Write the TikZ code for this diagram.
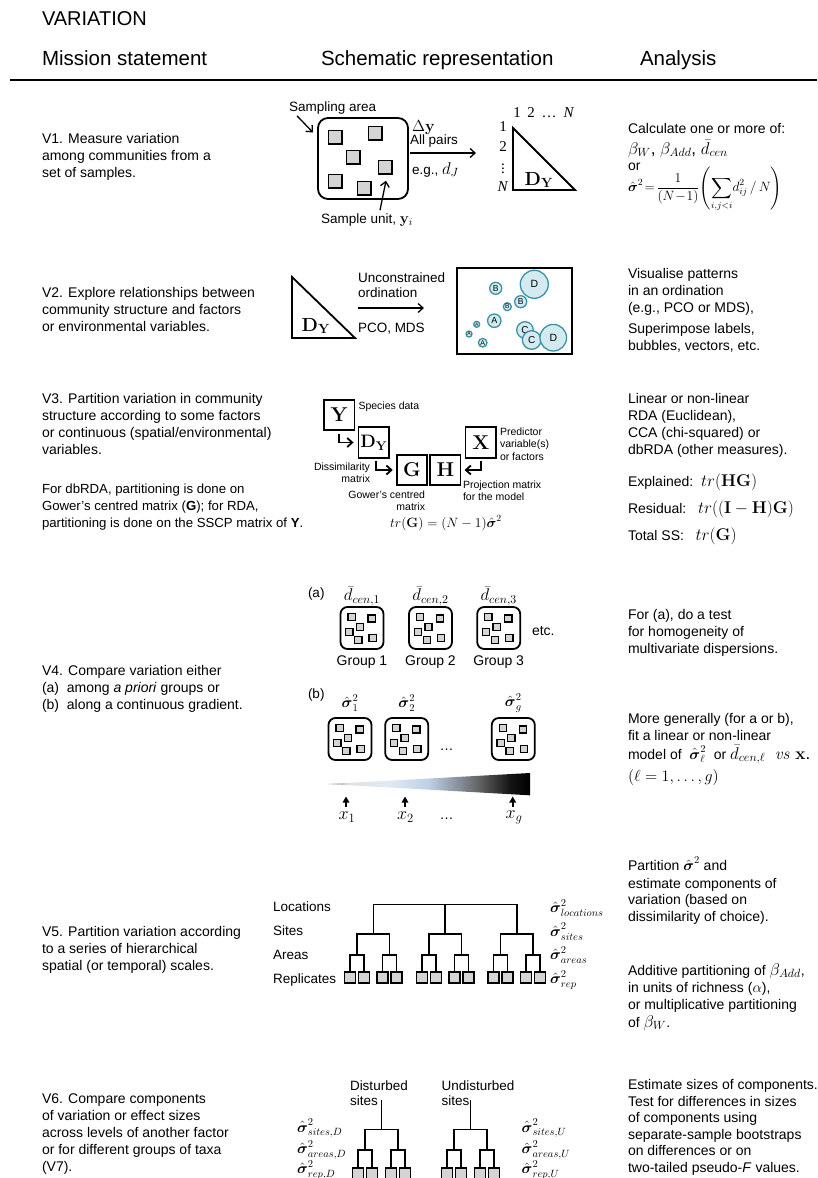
\RequirePackage{fix-cm}
\documentclass[tikz,border=0pt]{standalone}
\usepackage{amsmath}
\usepackage[no-math]{fontspec}
\setmainfont{Liberation Sans}
\newfontfamily\serifx{Liberation Serif}
\usetikzlibrary{arrows.meta,calc}
\definecolor{sqgray}{HTML}{D4D4D4}
\definecolor{bubfill}{HTML}{D3EBF0}
\definecolor{bubline}{HTML}{3B92A6}
\definecolor{wblue}{HTML}{BCD0E6}
\colorlet{wA}{black!50}
\colorlet{wB}{black!12}
\colorlet{wC}{wblue!45}
\colorlet{wD}{black!60}
\colorlet{wE}{black!92}
\pgfdeclarehorizontalshading{wedgeshade}{100bp}{color(0bp)=(wA); color(25bp)=(wA); color(30bp)=(wB); color(40bp)=(wC); color(50bp)=(wblue); color(62bp)=(wD); color(70bp)=(wE); color(75bp)=(black); color(100bp)=(black)}
\newcommand{\fsz}[1]{\fontsize{#1}{#1}\selectfont}
\newcommand{\sighat}{\hat{\boldsymbol{\sigma}}}
\begin{document}
\begin{tikzpicture}[x=1pt,y=-1pt,
 every node/.style={inner sep=0pt, outer sep=0pt},
 hdr/.style={anchor=base west, font=\fontsize{20.5}{24}\selectfont},
 para/.style={anchor=north west, align=left, font=\fontsize{14}{17}\selectfont},
 parb/.style={anchor=north west, align=left, font=\fontsize{14}{16.5}\selectfont},
 ln/.style={anchor=base west, font=\fontsize{14}{17}\selectfont},
 sm/.style={font=\fontsize{13.5}{15.5}\selectfont},
 lbl/.style={font=\fontsize{10.5}{12.3}\selectfont},
 num/.style={font=\serifx\fontsize{15}{17}\selectfont},
 mbox/.style={draw, line width=1.8pt, minimum width=30.5pt, minimum height=30.5pt, font=\fontsize{20}{22}\selectfont},
 samp/.style={draw, line width=1.5pt, fill=sqgray, minimum size=13.5pt},
 mini/.style={draw, line width=1.3pt, fill=sqgray, minimum size=7.2pt},
 rep/.style={draw, line width=1.4pt, fill=sqgray, minimum size=11pt},
 area/.style={draw, line width=1.8pt, rounded corners=10pt},
 grp/.style={draw, line width=1.8pt, rounded corners=7pt, minimum width=43pt, minimum height=42pt},
 bub/.style={circle, draw=bubline, fill=bubfill, line width=1.3pt},
 barb/.style={-{Straight Barb[length=5pt,width=9pt]}, line width=1.3pt},
 barbb/.style={-{Straight Barb[length=5pt,width=9pt]}, line width=1.8pt},
 uparr/.style={-{Triangle[length=6pt,width=6.5pt]}, line width=1.8pt},
 tl/.style={line width=1.6pt},
 tri/.style={line width=1.8pt, line join=miter},
]
\useasboundingbox (0,0) rectangle (817,1178);
\clip (0,0) rectangle (817,1178);
\fill[white] (0,0) rectangle (817,1178);

% ---------- header ----------
\node[anchor=base west, font=\fontsize{20}{24}\selectfont] (title) at (42,25) {VARIATION};
\node[hdr] (h1) at (42,65) {Mission statement};
\node[hdr] (h2) at (321,65) {Schematic representation};
\node[hdr] (h3) at (640,65) {Analysis};
\coordinate (hrA) at (10,80); \coordinate (hrB) at (817,80);
\draw[line width=1.5pt] (hrA) -- (hrB);

% ---------- V1 ----------
\node[para] (v1l) at (42,131.1) {\strut V1. Measure variation\\among communities from a\\set of samples.};
\node[sm, anchor=base west] (sal) at (289,111) {Sampling area};
\node[area, minimum width=90pt, minimum height=81pt] (sbox) at (363,158.5) {};
\draw[barb] ($(sal.south west)+(8,2)$) -- ($(sbox.west)+(-5,-26)$);
\foreach \n/\x/\y in {1/335/137, 2/375/133, 3/353/157, 4/385/167, 5/335/181, 6/364/188}
  \node[samp] (s\n) at (\x,\y) {};
\node[sm, anchor=base] (sul) at (367,223) {Sample unit, {\fsz{15}$\mathbf{y}_i$}};
\draw[barb] ($(sul.north)+(13,-3)$) -- ($(s4.south)+(1,7)$);
\node[anchor=base west, font=\fsz{16}] (dy) at (412,131) {$\Delta\mathbf{y}$};
\node[sm, anchor=base west] (ap) at (410,144) {All pairs};
\coordinate (arA) at (410,153); \coordinate (arB) at (476,153);
\draw[barb] (arA) -- (arB);
\node[sm, anchor=base west] (eg) at (412,174) {e.g., {\fsz{17}$d_J$}};
\draw[tri] (513,128) -- (513,190) -- (575,190) -- cycle;
\node[font=\fsz{19}] (dyl) at (539,180) {$\mathbf{D}_{\mathbf{Y}}$};
\node[num, anchor=base] (cn1) at (517,117) {1};
\node[num, anchor=base] (cn2) at (531,117) {2};
\node[num, anchor=base] (cn3) at (549,117) {…};
\node[num, anchor=base] (cn4) at (569,117) {\textit{N}};
\node[num] (rn1) at (503,127) {1};
\node[num] (rn2) at (503,147) {2};
\node[num] (rn3) at (503,166) {$\vdots$};
\node[num] (rn4) at (503,186.5) {\textit{N}};
\node[ln] (a1a) at (628,133.5) {Calculate one or more of:};
\node[anchor=base west, font=\fsz{17}] (a1b) at (628,154) {$\beta_W$, $\beta_{Add}$, $\bar{d}_{cen}$};
\node[ln] (a1c) at (628,170.5) {or};
\node[anchor=west, font=\fsz{13.5}] (a1d) at (628,189) {$\displaystyle\sighat^2\!=\!\frac{1}{(N\!-\!1)}\!\left(\sum_{i,j<i}\! d_{ij}^2\,/\,N\right)$};

% ---------- V2 ----------
\node[para] (v2l) at (42,285.1) {\strut V2. Explore relationships between\\community structure and factors\\or environmental variables.};
\draw[tri] (292,277) -- (292,338) -- (355,338) -- cycle;
\node[font=\fsz{19}] (dy2) at (316,326) {$\mathbf{D}_{\mathbf{Y}}$};
\node[sm, anchor=base west] (unc) at (358,282) {Unconstrained};
\node[sm, anchor=base west] (ordt) at (358,297.5) {ordination};
\coordinate (o1) at (358,308); \coordinate (o2) at (424,308);
\draw[barb] (o1) -- (o2);
\node[sm, anchor=base west] (pco) at (358,332) {PCO, MDS};
\node[draw, line width=2pt, minimum width=115pt, minimum height=86pt] (ordbox) at (514.5,311) {};
\node[bub, minimum size=12pt, font=\fsz{8.5}] (bB1) at (495.7,288.3) {B};
\node[bub, minimum size=28pt, font=\fsz{10.5}] (bD1) at (534.3,284.3) {D};
\node[bub, minimum size=8pt, font=\fsz{6.5}] (bB3) at (507.3,306.7) {B};
\node[bub, minimum size=12pt, font=\fsz{8.5}] (bB2) at (520.7,301.7) {B};
\node[bub, minimum size=13.4pt, font=\fsz{9}] (bA1) at (494.3,320.7) {A};
\node[bub, minimum size=6pt, font=\fsz{5}] (bA2) at (476.7,324.3) {A};
\node[bub, minimum size=6pt, font=\fsz{5}] (bA3) at (469,334) {A};
\node[bub, minimum size=8.6pt, font=\fsz{7}] (bA4) at (482.7,342.7) {A};
\node[bub, minimum size=16.6pt, font=\fsz{10}] (bC1) at (525,330) {C};
\node[bub, minimum size=18.6pt, font=\fsz{10}] (bC2) at (531.7,340) {C};
\node[bub, minimum size=26.6pt, font=\fsz{10.5}] (bD2) at (553.3,337.7) {D};
\node[para] (a2a) at (628,266.1) {\strut Visualise patterns\\in an ordination\\(e.g., PCO or MDS),};
\node[para] (a2b) at (628,321.1) {\strut Superimpose labels,\\bubbles, vectors, etc.};

% ---------- V3 ----------
\node[para] (v3l) at (42,391.1) {\strut V3. Partition variation in community\\structure according to some factors\\or continuous (spatial/environmental)\\variables.};
\node[para, font=\fontsize{13.2}{17}\selectfont] (v3m) at (42,481.1) {\strut For dbRDA, partitioning is done on\\Gower’s centred matrix (\textbf{G}); for RDA,\\partitioning is done on the SSCP matrix of \textbf{Y}.};
\node[mbox] (Yb) at (339.3,415) {$\mathbf{Y}$};
\node[mbox, font=\fsz{18}] (Db) at (373.8,442.5) {$\mathbf{D}_{\mathbf{Y}}$};
\node[mbox] (Gb) at (412,470) {$\mathbf{G}$};
\node[mbox] (Hb) at (445.3,470) {$\mathbf{H}$};
\node[mbox] (Xb) at (480.8,442.5) {$\mathbf{X}$};
\draw[barbb] ($(Yb.south)+(0,4)$) |- ($(Db.west)+(-5,0)$);
\draw[barbb] ($(Db.south)+(2,3)$) |- ($(Gb.west)+(-4,0)$);
\draw[barbb] ($(Xb.south)+(0,3)$) |- ($(Hb.east)+(4,0)$);
\node[lbl, anchor=base west] (spd) at (358.5,409.5) {Species data};
\node[lbl, anchor=north west, align=left] (pred) at (500,426.9) {\strut Predictor\\variable(s)\\or factors};
\node[lbl, anchor=north east, align=right] (diss) at (370,461.9) {\strut Dissimilarity\\matrix};
\node[lbl, anchor=north west, align=left] (proj) at (463,479.4) {\strut Projection matrix\\for the model};
\node[lbl, anchor=north east, align=right] (gow) at (425,489.4) {\strut Gower’s centred\\matrix};
\node[font=\fsz{13.5}] (trg) at (446,523) {$tr(\mathbf{G})=(N-1)\sighat^2$};
\node[para] (a3a) at (628,391.1) {\strut Linear or non-linear\\RDA (Euclidean),\\CCA (chi-squared) or\\dbRDA (other measures).};
\node[ln] (a3b) at (628,486) {Explained:\ \ {\fsz{17}$tr(\mathbf{HG})$}};
\node[ln] (a3c) at (628,513) {Residual:\ \ \ {\fsz{17}$tr((\mathbf{I}-\mathbf{H})\mathbf{G})$}};
\node[ln] (a3d) at (628,540) {Total SS:\ \ \ {\fsz{17}$tr(\mathbf{G})$}};

% ---------- V4 ----------
\node[para] (v4l) at (42,663.1) {\strut V4. Compare variation either\\(a)\ \ among \textit{a priori} groups or\\(b)\ \ along a continuous gradient.};
\node[sm, anchor=base west] (pa) at (308,597) {(a)};
\node[sm, anchor=base west] (pb) at (308,698) {(b)};
\foreach \g/\cx in {1/362, 2/430.5, 3/498.7} {
  \node[font=\fsz{17}] (dc\g) at (\cx,596) {$\bar{d}_{cen,\g}$};
  \node[ln, anchor=base] (gl\g) at (\cx,665) {Group \g};
}
\foreach \g/\cx/\cy in {a1/362/628, a2/430.5/628, a3/498.7/628, b1/350/739, b2/406.7/739, b3/513.3/739} {
  \node[grp] (box\g) at (\cx,\cy) {};
  \foreach \k/\dx/\dy in {1/-10.3/-11.2, 2/9.7/-9.5, 3/-2/-0.8, 4/-12.7/3.8, 5/-3.7/12.2, 6/10.7/9.8}
    \node[mini] (m\g\k) at ($(\cx,\cy)+(\dx,\dy)$) {};
}
\node[ln] (etc) at (532,635) {etc.};
\node[font=\fsz{15}] (sg1) at (350,703) {$\sighat_1^2$};
\node[font=\fsz{15}] (sg2) at (406.7,703) {$\sighat_2^2$};
\node[font=\fsz{15}] (sgg) at (513.3,703) {$\sighat_g^2$};
\node[ln, anchor=base] (dots1) at (446.7,750) {…};
\shade[shading=wedgeshade] (328,784) -- (530,773) -- (530,795.3) -- cycle;
\foreach \i/\x in {1/346, 2/405, 3/512.7} {
  \coordinate (xa\i) at (\x,806.5);
  \coordinate (xb\i) at (\x,796.5);
  \draw[uparr] (xa\i) -- (xb\i);
}
\node[font=\fsz{18}] (xl1) at (347,817) {$x_1$};
\node[font=\fsz{18}] (xl2) at (405.5,817) {$x_2$};
\node[font=\fsz{18}] (xlg) at (514,817) {$x_g$};
\node[ln, anchor=base] (dots2) at (446.7,819) {…};
\node[para] (a4a) at (628,607.1) {\strut For (a), do a test\\for homogeneity of\\multivariate dispersions.};
\node[para] (a4b) at (628,711.1) {\strut More generally (for a or b),\\fit a linear or non-linear};
\node[ln] (a4c) at (628,759) {model of\ \ {\fsz{15}$\sighat^2_\ell$}\ \ or {\fsz{17}$\bar{d}_{cen,\ell}$\ \ $\mathit{vs}$\ $\mathbf{x}$.}};
\node[anchor=base west, font=\fsz{16}] (a4d) at (628,781) {$(\ell=1,\ldots,g)$};

% ---------- V5 ----------
\node[para] (v5l) at (42,924.1) {\strut V5. Partition variation according\\to a series of hierarchical\\spatial (or temporal) scales.};
\node[sm, anchor=base west] (loc) at (273,911.5) {Locations};
\node[sm, anchor=base west] (sit) at (273,935) {Sites};
\node[sm, anchor=base west] (are) at (273,959) {Areas};
\node[sm, anchor=base west] (rpl) at (273,983) {Replicates};
\foreach \s/\S in {1/373.3, 2/445, 3/516.7} {
  \coordinate (sc\s) at (\S,934);
  \foreach \a/\da in {1/-16.3, 2/16.3} {
    \coordinate (ac\s\a) at (\S+\da,955);
    \node[rep] (r\s\a1) at (\S+\da-7,977.5) {};
    \node[rep] (r\s\a2) at (\S+\da+7,977.5) {};
    \draw[tl] (r\s\a1.north) |- (ac\s\a) -| (r\s\a2.north);
  }
  \draw[tl] (ac\s1) |- (sc\s) -| (ac\s2);
}
\coordinate (ltop) at (445,904.3);
\draw[tl] (sc1) |- (ltop) -| (sc3);
\draw[tl] (sc2) -- (ltop);
\node[anchor=west, font=\fsz{15}] (vloc) at (550,908) {$\sighat^2_{locations}$};
\node[anchor=west, font=\fsz{15}] (vsit) at (550,931.5) {$\sighat^2_{sites}$};
\node[anchor=west, font=\fsz{15}] (vare) at (550,955) {$\sighat^2_{areas}$};
\node[anchor=west, font=\fsz{15}] (vrep) at (550,980) {$\sighat^2_{rep}$};
\node[ln] (a5a) at (628,870.5) {Partition\ {\fsz{15}$\sighat^2$}\ and};
\node[parb] (a5b) at (628,876.5) {\strut estimate components of\\variation (based on\\dissimilarity of choice).};
\node[ln] (a5c) at (628,975) {Additive partitioning of {\fsz{17}$\beta_{Add}$},};
\node[para] (a5d) at (628,980.1) {\strut in units of richness ({\fsz{15}$\alpha$}),\\or multiplicative partitioning};
\node[ln] (a5e) at (628,1027) {of {\fsz{17}$\beta_W$}.};

% ---------- V6 ----------
\node[para] (v6l) at (42,1091.1) {\strut V6. Compare components\\of variation or effect sizes\\across levels of another factor\\or for different groups of taxa\\(V7).};
\node[sm, anchor=north west, align=left] (dist) at (350,1079.15) {\strut Disturbed\\sites};
\node[sm, anchor=north west, align=left] (undist) at (441.7,1079.15) {\strut Undisturbed\\sites};
\foreach \t/\S in {D/381.3, U/470.3} {
  \coordinate (sc\t) at (\S,1129.3);
  \coordinate (st\t) at (\S,1100);
  \foreach \a/\da in {1/-16.6, 2/16.6} {
    \coordinate (ac\t\a) at (\S+\da,1150);
    \node[rep] (r\t\a1) at (\S+\da-7,1173.5) {};
    \node[rep] (r\t\a2) at (\S+\da+7,1173.5) {};
    \draw[tl] (r\t\a1.north) |- (ac\t\a) -| (r\t\a2.north);
  }
  \draw[tl] (ac\t1) |- (sc\t) -| (ac\t2);
  \draw[tl] (sc\t) -- (st\t);
}
\node[anchor=west, font=\fsz{15}] (vsd) at (297,1128.3) {$\sighat^2_{sites,D}$};
\node[anchor=west, font=\fsz{15}] (vad) at (297,1150) {$\sighat^2_{areas,D}$};
\node[anchor=west, font=\fsz{15}] (vrd) at (297,1170) {$\sighat^2_{rep,D}$};
\node[anchor=west, font=\fsz{15}] (vsu) at (521.7,1128.3) {$\sighat^2_{sites,U}$};
\node[anchor=west, font=\fsz{15}] (vau) at (521.7,1150) {$\sighat^2_{areas,U}$};
\node[anchor=west, font=\fsz{15}] (vru) at (521.7,1170) {$\sighat^2_{rep,U}$};
\node[parb] (a6) at (628,1077.95) {\strut Estimate sizes of components.\\Test for differences in sizes\\of components using\\separate-sample bootstraps\\on differences or on\\two-tailed pseudo-\textit{F} values.};
\end{tikzpicture}
\end{document}
